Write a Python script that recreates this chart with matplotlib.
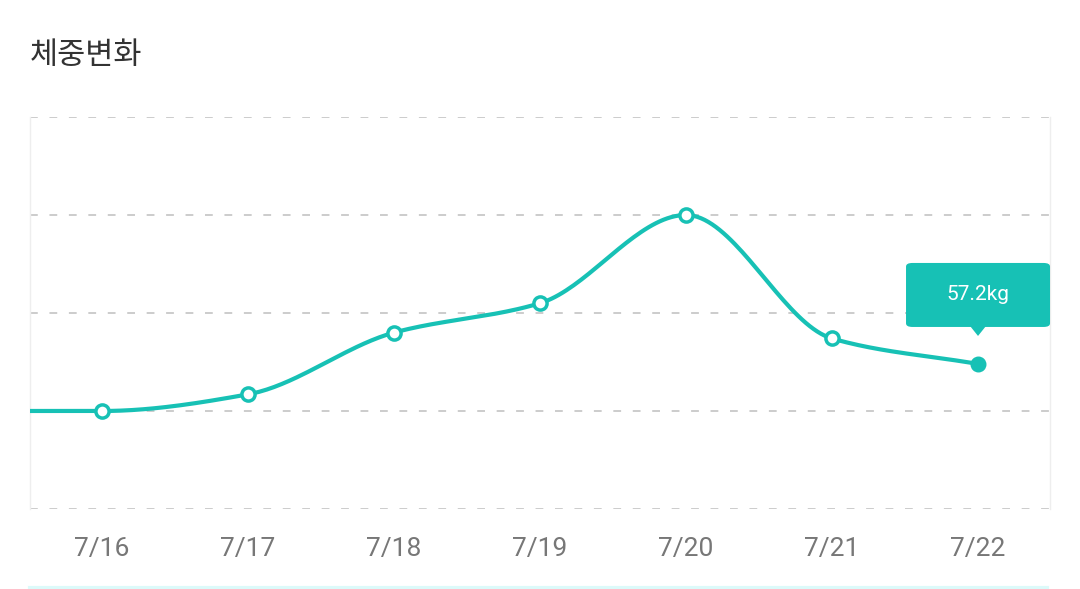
import numpy as np
import matplotlib

matplotlib.use("Agg")
import matplotlib.pyplot as plt
from matplotlib.patches import FancyBboxPatch, Polygon

# data (7/15 sits just off the left edge, the line runs in from it)
dates = ["7/15", "7/16", "7/17", "7/18", "7/19", "7/20", "7/21", "7/22"]
weights = [56.7, 56.7, 56.87, 57.5, 57.8, 58.7, 57.44, 57.18]
grid_levels = [55.7, 56.7, 57.7, 58.7, 59.7]
title = "체중변화"
tip_text = "57.2kg"

TEAL = "#17c1b5"
GRID = "#cccccc"


def monotone_curve(x, y, n=40):
    """Fritsch-Carlson monotone cubic through the points."""
    x = np.asarray(x, float)
    y = np.asarray(y, float)
    h = np.diff(x)
    d = np.diff(y) / h
    m = np.zeros_like(y)
    m[0], m[-1] = d[0], d[-1]
    for i in range(1, len(y) - 1):
        if d[i - 1] * d[i] <= 0:
            m[i] = 0.0
        else:
            m[i] = 3 * (h[i - 1] + h[i]) / ((2 * h[i] + h[i - 1]) / d[i - 1] + (h[i] + 2 * h[i - 1]) / d[i])
    xs, ys = [], []
    for i in range(len(x) - 1):
        t = np.linspace(0, 1, n)
        h00 = 2 * t**3 - 3 * t**2 + 1
        h10 = t**3 - 2 * t**2 + t
        h01 = -2 * t**3 + 3 * t**2
        h11 = t**3 - t**2
        xs.append(x[i] + t * h[i])
        ys.append(h00 * y[i] + h10 * h[i] * m[i] + h01 * y[i + 1] + h11 * h[i] * m[i + 1])
    return np.concatenate(xs), np.concatenate(ys)


idx = np.arange(len(dates)) - 1  # 7/16 -> 0

fig = plt.figure(figsize=(10.8, 5.89), dpi=100)
ax = fig.add_axes([30 / 1080, 1 - 509 / 589, 1020 / 1080, 392 / 589])
ax.set_xlim(-0.493, 6.493)
ax.set_ylim(grid_levels[0], grid_levels[-1])

for g in grid_levels:
    ax.axhline(g, color=GRID, lw=1.4, ls=(0, (4, 6)), zorder=1)

for s in ["top", "bottom"]:
    ax.spines[s].set_visible(False)
for s in ["left", "right"]:
    ax.spines[s].set_color("#eeeeee")
    ax.spines[s].set_linewidth(1)

cx, cy = monotone_curve(idx, weights)
ax.plot(cx, cy, color=TEAL, lw=3, zorder=3, solid_capstyle="round")

ax.scatter(idx[1:-1], weights[1:-1], s=90, facecolor="white", edgecolor=TEAL, linewidths=2.5, zorder=4)
ax.scatter(idx[-1], weights[-1], s=110, color=TEAL, zorder=4)

ax.set_xticks(idx[1:])
ax.set_xticklabels(dates[1:], fontsize=19, color="#777777", family="Roboto")
ax.tick_params(axis="x", length=0, pad=20)
ax.set_yticks([])

# tooltip over the last point
tr = ax.transData
px, py = tr.transform((idx[-1], weights[-1]))
inv = fig.transFigure.inverted()
bw, bh = 144, 64
bx0, by0 = px - 72, py + 37
box = FancyBboxPatch(
    inv.transform((bx0, by0)), bw / 1080, bh / 589,
    boxstyle="round,pad=0,rounding_size=0.006",
    transform=fig.transFigure, facecolor=TEAL, edgecolor="none", zorder=10,
)
fig.patches.append(box)
tri = Polygon(
    [inv.transform((px - 8, by0 + 1)), inv.transform((px + 8, by0 + 1)), inv.transform((px, by0 - 9))],
    closed=True, transform=fig.transFigure, facecolor=TEAL, edgecolor="none", zorder=10,
)
fig.patches.append(tri)
tx, ty = inv.transform((px, by0 + bh / 2))
fig.text(tx, ty, tip_text, color="white", fontsize=15, family="Roboto", ha="center", va="center", zorder=11)

fig.text(30 / 1080, 1 - 55 / 589, title, fontsize=22, color="#333333",
         family=["Noto Sans CJK KR", "DejaVu Sans"], ha="left", va="center")

# light strip at the bottom
fig.add_artist(plt.Line2D([30 / 1080, 1047 / 1080], [1 - 588 / 589] * 2, color="#dcfafa", lw=3,
                          transform=fig.transFigure))

fig.savefig("out.png", dpi=100)
